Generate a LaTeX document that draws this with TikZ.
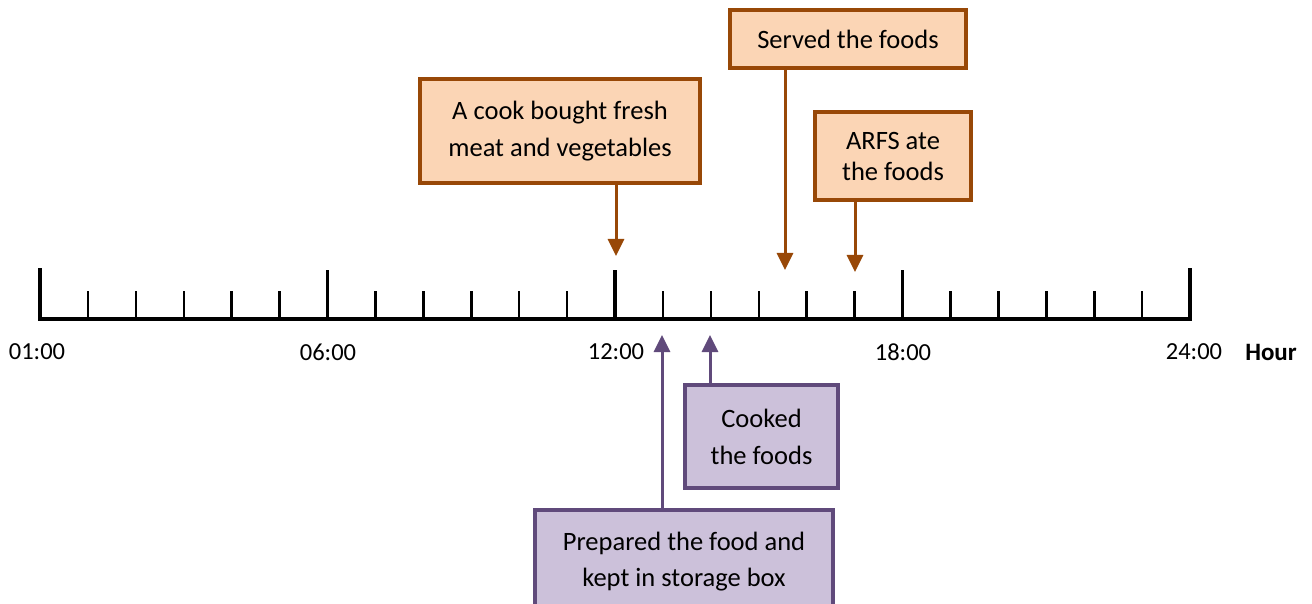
\documentclass[tikz,border=0pt]{standalone}
\usepackage{fontspec}
\setmainfont{Carlito}
\usetikzlibrary{arrows.meta}
\definecolor{evfill}{HTML}{FBD5B5}
\definecolor{evdraw}{HTML}{984807}
\definecolor{stfill}{HTML}{CCC1DA}
\definecolor{stdraw}{HTML}{604A7B}
\tikzset{
    event/.style={rectangle, draw=evdraw, fill=evfill, line width=3.5pt, align=center, font=\fontsize{26.5}{37}\selectfont},
    stage/.style={rectangle, draw=stdraw, fill=stfill, line width=3.5pt, align=center, font=\fontsize{26.5}{37}\selectfont},
    evarrow/.style={draw=evdraw, line width=3pt, -{Triangle[width=16pt,length=17pt]}},
    starrow/.style={draw=stdraw, line width=3pt, -{Triangle[width=16pt,length=17pt]}},
    hourlbl/.style={font=\fontsize{24.5}{28}\selectfont},
}
\begin{document}
\begin{tikzpicture}[x=1pt, y=-1pt]
        \useasboundingbox (0,0) rectangle (1312,604);
        % time axis
        \draw[line width=3.5pt, line cap=rect] (40,270) -- (40,319) -- (1190,319) -- (1190,270);
        \foreach \i in {1,...,23} {
            \pgfmathsetmacro\tx{40+\i*47.92}
            \pgfmathtruncatemacro\im{mod(\i,6)}
            \ifnum\im=0
                \draw[line width=3.5pt] (\tx,319) -- (\tx,270);
            \else
                \draw[line width=2.5pt] (\tx,319) -- (\tx,291);
            \fi
        }
        \node [hourlbl] (h01) at (37,352) {01:00};
        \node [hourlbl] (h06) at (328,352) {06:00};
        \node [hourlbl] (h12) at (616,352) {12:00};
        \node [hourlbl] (h18) at (903,352) {18:00};
        \node [hourlbl] (h24) at (1194,352) {24:00};
        \node [hourlbl, font=\fontsize{25}{28}\selectfont\bfseries] (hour) at (1271,352) {Hour};
        % events above
        \node [event, minimum width=280pt, minimum height=104pt] (cook) at (560,131) {A cook bought fresh\\meat and vegetables};
        \node [event, minimum width=236pt, minimum height=58pt] (served) at (848,39) {Served the foods};
        \node [event, minimum width=156pt, minimum height=88pt, font=\fontsize{26.5}{31}\selectfont] (arfs) at (893,156) {ARFS ate\\the foods};
        \coordinate (cookend) at (616,256);
        \coordinate (servedend) at (785,270);
        \coordinate (arfsend) at (855,272);
        \draw[evarrow] (cook.south -| cookend) -- (cookend);
        \draw[evarrow] (served.south -| servedend) -- (servedend);
        \draw[evarrow] (arfs.south -| arfsend) -- (arfsend);
        % stages below
        \node [stage, minimum width=153pt, minimum height=103pt] (cooked) at (761.5,436.5) {Cooked\\the foods};
        \node [stage, minimum width=298pt, minimum height=104pt, font=\fontsize{26.5}{36}\selectfont] (prepared) at (684,562) {Prepared the food and\\kept in storage box};
        \coordinate (cookedend) at (710,335);
        \coordinate (preparedend) at (662,335);
        \draw[starrow] (cooked.north -| cookedend) -- (cookedend);
        \draw[starrow] (prepared.north -| preparedend) -- (preparedend);
    \end{tikzpicture}
\end{document}
